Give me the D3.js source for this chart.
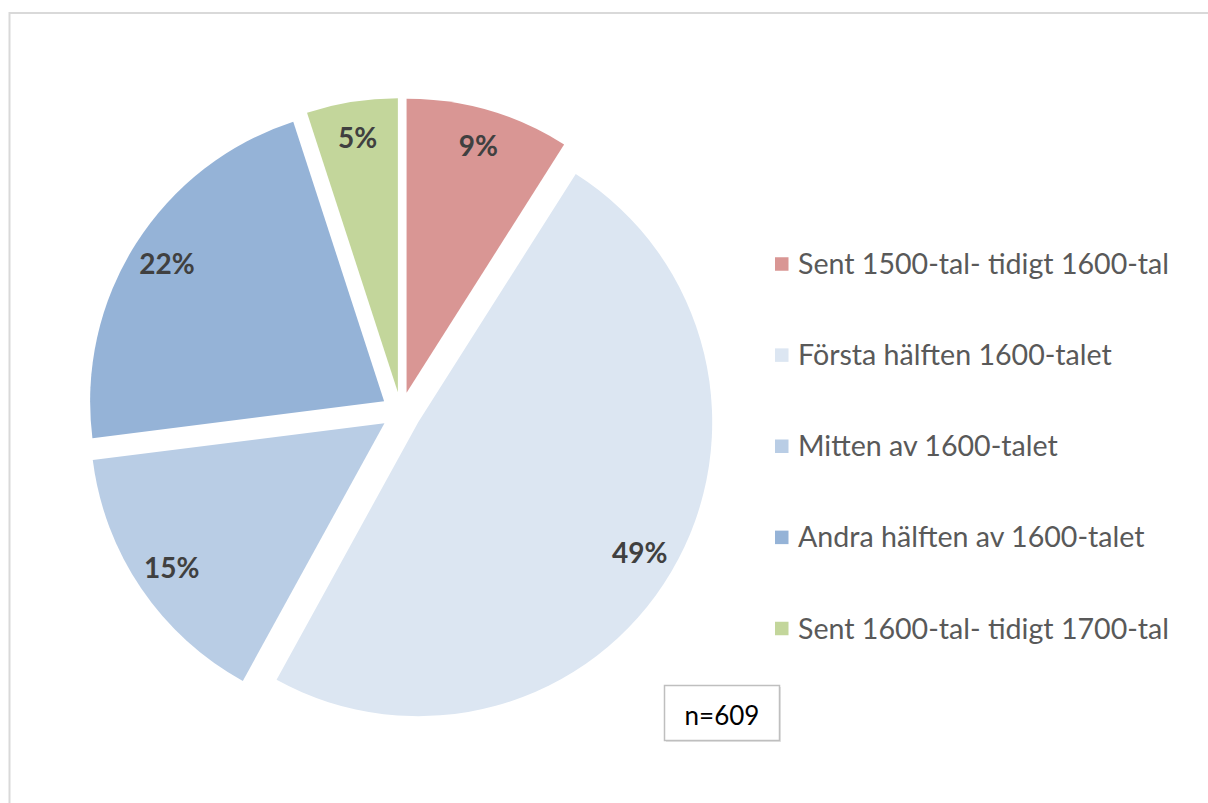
<!DOCTYPE html>
<html>
<head>
<meta charset="utf-8">
<script src="https://cdn.jsdelivr.net/npm/d3@7"></script>
<style>
  html, body { margin: 0; padding: 0; background: #ffffff; }
  svg { display: block; }
</style>
</head>
<body>
<svg id="chart" width="1208" height="803"></svg>
<script>
// Period categories and their share of the sample (percent)
const categories = [
  "Sent 1500-tal- tidigt 1600-tal",
  "Första hälften 1600-talet",
  "Mitten av 1600-talet",
  "Andra hälften av 1600-talet",
  "Sent 1600-tal- tidigt 1700-tal"
];
const shares = [9, 49, 15, 22, 5];
const colors = ["#d99694", "#dce6f2", "#b9cde5", "#95b3d7", "#c3d69b"];
const sampleNote = "n=609";

const W = 1208, H = 803;
const svg = d3.select("#chart");

// Outer chart frame (runs off the right and bottom edges)
svg.append("rect")
  .attr("x", 9.5).attr("y", 13)
  .attr("width", W + 20).attr("height", H + 20)
  .attr("fill", "#ffffff")
  .attr("stroke", "#d9d9d9")
  .attr("stroke-width", 2);

// Pie geometry
const cx = 401, cy = 412, R = 294, explode = 20;

const pie = d3.pie().sort(null).value(d => d.v).startAngle(0).endAngle(2 * Math.PI);
const data = categories.map((c, i) => ({ name: c, v: shares[i], color: colors[i] }));
const arcs = pie(data);

const arc = d3.arc().innerRadius(0).outerRadius(R);
const labelArc = d3.arc().innerRadius(R * 0.875).outerRadius(R * 0.875);

const pieG = svg.append("g").attr("transform", `translate(${cx},${cy})`);

const slice = pieG.selectAll("g.slice")
  .data(arcs)
  .join("g")
  .attr("class", "slice")
  .attr("transform", d => {
    const mid = (d.startAngle + d.endAngle) / 2;
    return `translate(${explode * Math.sin(mid)},${-explode * Math.cos(mid)})`;
  });

slice.append("path")
  .attr("d", arc)
  .attr("fill", d => d.data.color);

slice.append("text")
  .attr("transform", d => `translate(${labelArc.centroid(d)})`)
  .attr("text-anchor", "middle")
  .attr("dy", "0.36em")
  .attr("font-family", "Lato, 'Open Sans', sans-serif")
  .attr("font-weight", "bold")
  .attr("font-size", 28)
  .attr("fill", "#404040")
  .text(d => d3.format(".0%")(d.data.v / 100));

// Legend
const legendY = d3.scalePoint().domain(categories).range([264, 628.5]);
const legend = svg.append("g");
const item = legend.selectAll("g")
  .data(data)
  .join("g")
  .attr("transform", d => `translate(775,${legendY(d.name)})`);

item.append("rect")
  .attr("x", 0).attr("y", -6.75)
  .attr("width", 13.5).attr("height", 13.5)
  .attr("fill", d => d.color);

item.append("text")
  .attr("x", 23).attr("y", 10)
  .attr("font-family", "Lato, 'Open Sans', sans-serif")
  .attr("font-size", 28.6)
  .attr("fill", "#595959")
  .text(d => d.name);

// Sample size box
const note = svg.append("g").attr("transform", "translate(664.5,685.5)");
note.append("rect")
  .attr("x", 1.5).attr("y", 1.5)
  .attr("width", 115).attr("height", 55)
  .attr("fill", "#e6e6e6");
note.append("rect")
  .attr("width", 115).attr("height", 55)
  .attr("fill", "#ffffff")
  .attr("stroke", "#bfbfbf")
  .attr("stroke-width", 1.5);
note.append("text")
  .attr("x", 57.5).attr("y", 39)
  .attr("text-anchor", "middle")
  .attr("font-family", "Lato, 'Open Sans', sans-serif")
  .attr("font-size", 26)
  .attr("fill", "#000000")
  .text(sampleNote);
</script>
</body>
</html>
